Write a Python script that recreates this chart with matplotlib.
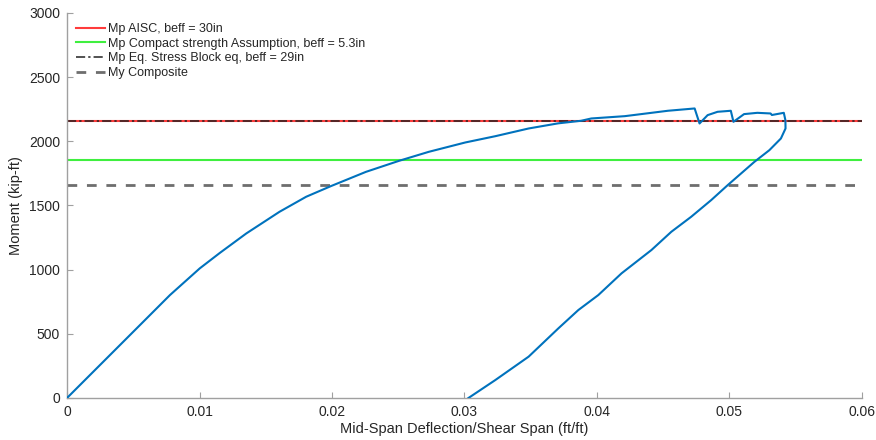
import matplotlib
matplotlib.use("Agg")
import matplotlib.pyplot as plt

plt.rcParams['font.family'] = ['Liberation Sans', 'DejaVu Sans']

# Measured moment vs. normalized mid-span deflection (loading, then unloading)
deflection = [0.0, 0.00564, 0.00777, 0.01002, 0.01153, 0.01353, 0.01604, 0.01805,
              0.01992, 0.02256, 0.02506, 0.0273, 0.03006, 0.03233, 0.03484, 0.03707,
              0.0388, 0.03957, 0.0421, 0.04535, 0.04737, 0.04774, 0.04835, 0.0491,
              0.0501, 0.0503, 0.0511, 0.0521, 0.0531, 0.0532, 0.0541, 0.05422,
              0.05423, 0.05388, 0.05301, 0.05188, 0.04987, 0.04862, 0.04711, 0.04561,
              0.04411, 0.04185, 0.0401, 0.03859, 0.03709, 0.03484, 0.03233, 0.0303]
moment = [0, 582, 802, 1010, 1130, 1282, 1451, 1568,
          1651, 1762, 1848, 1918, 1991, 2040, 2100, 2140,
          2160, 2178, 2196, 2238, 2256, 2139, 2204, 2230,
          2238, 2152, 2212, 2222, 2217, 2205, 2222, 2165,
          2100, 2022, 1931, 1840, 1659, 1542, 1412, 1295,
          1153, 971, 802, 685, 543, 322, 140, 0]

# Plastic moment capacities (kip-ft)
mp_aisc = 2160
mp_compact = 1852
mp_stress_block = 2158
my_composite = 1657

legend_labels = ["Mp AISC, beff = 30in",
                 "Mp Compact strength Assumption, beff = 5.3in",
                 "Mp Eq. Stress Block eq, beff = 29in",
                 "My Composite"]

xticks = [0, 0.01, 0.02, 0.03, 0.04, 0.05, 0.06]
xtick_labels = ["0", "0.01", "0.02", "0.03", "0.04", "0.05", "0.06"]
yticks = [0, 500, 1000, 1500, 2000, 2500, 3000]

fig = plt.figure(figsize=(8.76, 4.4), dpi=100)
ax = fig.add_axes([0.0765, 0.0955, 0.9075, 0.875])

ax.plot(deflection, moment, color='#0072BD', lw=1.5, zorder=3,
        solid_joinstyle='round')
h1 = ax.axhline(mp_aisc, color='#FF3B3B', lw=1.5, zorder=2)
h2 = ax.axhline(mp_compact, color='#3FEF3F', lw=1.5, zorder=2)
h3, = ax.plot([0, 0.06], [mp_stress_block, mp_stress_block], color='#222222',
              lw=1.1, ls=(0, (6, 2, 1.5, 2)), zorder=2)
h4, = ax.plot([0, 0.06], [my_composite, my_composite], color='#6E6E6E',
              lw=2.0, ls=(0, (3.5, 3.5)), zorder=2)

ax.set_xlim(0, 0.06)
ax.set_ylim(0, 3000)
ax.set_xticks(xticks)
ax.set_xticklabels(xtick_labels)
ax.set_yticks(yticks)

for s in ['top', 'right']:
    ax.spines[s].set_visible(False)
for s in ['left', 'bottom']:
    ax.spines[s].set_color('#A0A0A0')
    ax.spines[s].set_linewidth(1.0)
ax.tick_params(direction='in', length=4, width=0.8, color='#A0A0A0',
               labelcolor='#262626', labelsize=10, pad=5)

ax.set_xlabel("Mid-Span Deflection/Shear Span (ft/ft)", fontsize=10.5,
              color='#262626', labelpad=2)
ax.set_ylabel("Moment (kip-ft)", fontsize=10.5, color='#262626', labelpad=4)

leg = ax.legend([h1, h2, h3, h4], legend_labels, loc='upper left',
                bbox_to_anchor=(0.0, 0.997), frameon=False, fontsize=9,
                handlelength=2.3, handletextpad=0.25, labelspacing=0.22,
                borderaxespad=0.3)
for t in leg.get_texts():
    t.set_color('#262626')

fig.savefig("out.png", dpi=100)
